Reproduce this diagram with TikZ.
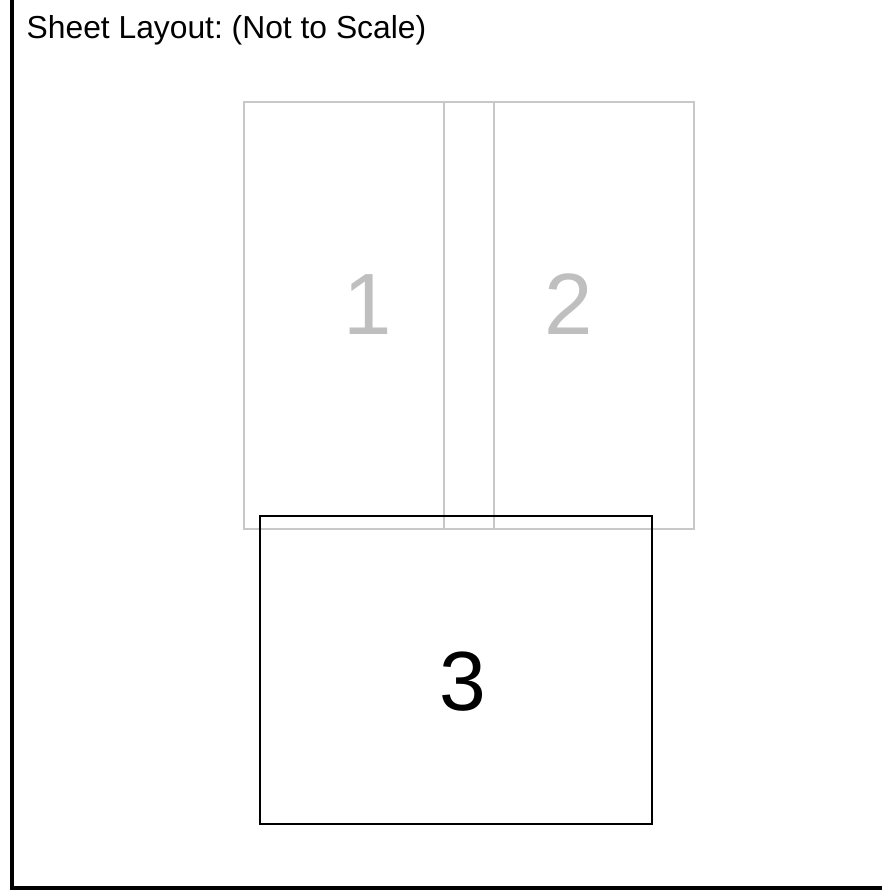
\documentclass[tikz,border=0pt]{standalone}
\usepackage{fontspec}
\setmainfont{Liberation Sans}
\frenchspacing
\begin{document}
\begin{tikzpicture}[x=1pt,y=-1pt,
  sheetgray/.style={draw=graybox,line width=1.2pt},
  sheetblack/.style={draw=black,line width=1.4pt},
  numgray/.style={inner sep=0pt,anchor=base,text=graynum,font=\fontsize{87}{87}\selectfont},
  numblack/.style={inner sep=0pt,anchor=base,text=black,font=\fontsize{84}{84}\selectfont},
  titletext/.style={inner sep=0pt,anchor=base west,font=\fontsize{31.8}{32}\selectfont}]
\definecolor{graybox}{HTML}{C8C8C8}
\definecolor{graynum}{HTML}{BFBFBF}
\useasboundingbox[fill=white] (0,0) rectangle (882,891);
% frame
\draw[line width=4pt] (12,-2) -- (12,888) -- (884,888);
% title
\node[titletext] (title) at (26.5,38.3) {Sheet Layout: (Not to Scale)};
% sheets 1 and 2
\draw[sheetgray] (244,102) rectangle (494,529);
\draw[sheetgray] (444,102) rectangle (694,529);
\node[numgray] (n1) at (368,334) {1};
\node[numgray] (n2) at (569,334) {2};
% sheet 3
\draw[sheetblack] (260,516) rectangle (652,824);
\node[numblack] (n3) at (463,710) {3};
\end{tikzpicture}
\end{document}
